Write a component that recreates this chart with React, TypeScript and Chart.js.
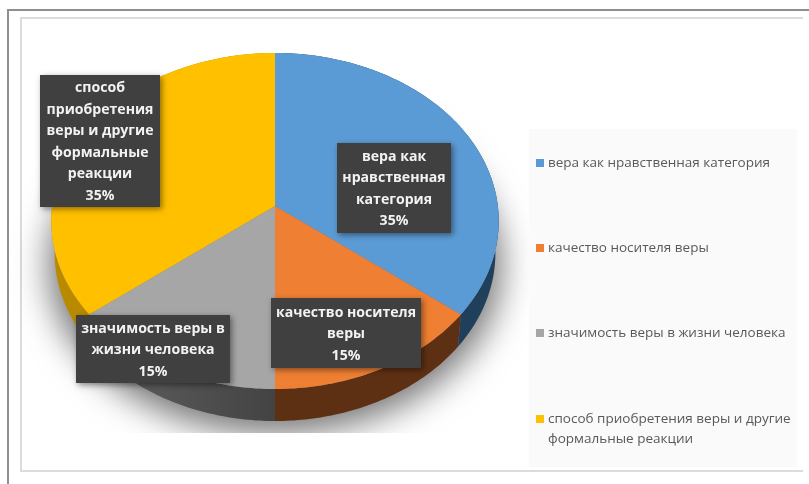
import React, { useEffect, useRef } from "react";
import { Chart, registerables } from "chart.js";

Chart.register(...registerables);

const categories = [
  "вера как нравственная категория",
  "качество носителя веры",
  "значимость веры в жизни человека",
  "способ приобретения веры и другие формальные реакции",
];
const shares = [35, 15, 15, 35];
const topColors = ["#5b9bd5", "#ef7f32", "#a6a6a6", "#ffc000"];
const sideColors = ["#203f5a", "#5e3013", "#434343", "#b98a00"];
const calloutLines = [
  ["вера как", "нравственная", "категория"],
  ["качество носителя", "веры"],
  ["значимость веры в", "жизни человека"],
  ["способ", "приобретения", "веры и другие", "формальные", "реакции"],
];
const legendLines = [
  ["вера как нравственная категория"],
  ["качество носителя веры"],
  ["значимость веры в жизни человека"],
  ["способ приобретения веры и другие", "формальные реакции"],
];

// Callout boxes: left, top, right, bottom, in canvas pixels.
const calloutBoxes = [
  [337, 143, 451, 233],
  [271, 298, 421, 368],
  [76, 315, 230, 383],
  [40, 75, 160, 207],
];
const legendRowY = [163, 248, 333, 419];

// Disc geometry: the slice apex sits above the centre of the rim to suggest perspective.
const APEX_X = 275;
const APEX_Y = 206;
const HALF_W = 223.5;
const PERSP = -0.0893;
const PERSP_Y = 148.3;
const RIM_CY = 221;
const RIM_RY = 168;
const DEPTH = 32;
const WALL_SCALE = 0.985;

function rimPoint(angle: number): [number, number] {
  const u = Math.cos(angle);
  const v = Math.sin(angle);
  const d = 1 + PERSP * v;
  const px = (HALF_W * u) / d;
  const py = (PERSP_Y * v + APEX_Y) / d;
  return [APEX_X + (px + HALF_W * u) / 2, (py + RIM_CY + RIM_RY * v) / 2];
}

function traceRim(
  ctx: CanvasRenderingContext2D,
  a0: number,
  a1: number,
  dy: number,
  scale = 1,
  reverse = false,
) {
  const n = Math.max(8, Math.ceil(Math.abs(a1 - a0) * 60));
  for (let i = 0; i <= n; i++) {
    const t = reverse ? 1 - i / n : i / n;
    const [x, y] = rimPoint(a0 + (a1 - a0) * t);
    ctx.lineTo(APEX_X + (x - APEX_X) * scale, y + dy);
  }
}

const tiltedPie = {
  id: "tiltedPie",
  beforeDatasetDraw(chart: any) {
    const ctx: CanvasRenderingContext2D = chart.ctx;
    const arcs = chart.getDatasetMeta(0).data;
    const angles = arcs.map((a: any) => a.getProps(["startAngle", "endAngle"], true));
    const first = angles[0].startAngle;
    const last = angles[angles.length - 1].endAngle;

    // Cast shadow only: the caster sits off-canvas, and the bottom is cut straight.
    const OFF = 3000;
    ctx.save();
    ctx.beginPath();
    ctx.rect(0, 0, 809, 433);
    ctx.clip();
    ctx.shadowColor = "rgba(0,0,0,0.55)";
    ctx.shadowBlur = 34;
    ctx.shadowOffsetX = OFF;
    ctx.fillStyle = "#000";
    ctx.beginPath();
    const shifted = DEPTH + 12;
    for (let i = 0; i <= 240; i++) {
      const [x, y] = rimPoint(first + ((last - first) * i) / 240);
      ctx.lineTo(APEX_X + (x - APEX_X) * 1.01 - OFF, y + shifted);
    }
    ctx.closePath();
    ctx.fill();
    ctx.restore();

    // Extruded side walls, then the top faces over them.
    angles.forEach((p: any, i: number) => {
      ctx.beginPath();
      traceRim(ctx, p.startAngle, p.endAngle, 0);
      traceRim(ctx, p.startAngle, p.endAngle, DEPTH, WALL_SCALE, true);
      ctx.closePath();
      if (i === 2) {
        const g = ctx.createLinearGradient(120, 0, 275, 0);
        g.addColorStop(0, "#5c5c5c");
        g.addColorStop(1, sideColors[i]);
        ctx.fillStyle = g;
      } else {
        ctx.fillStyle = sideColors[i];
      }
      ctx.fill();
    });
    angles.forEach((p: any, i: number) => {
      ctx.beginPath();
      ctx.moveTo(APEX_X, APEX_Y);
      traceRim(ctx, p.startAngle, p.endAngle, 0);
      ctx.closePath();
      ctx.fillStyle = topColors[i];
      ctx.fill();
    });
    return false;
  },
  afterDatasetsDraw(chart: any) {
    const ctx: CanvasRenderingContext2D = chart.ctx;
    const values: number[] = chart.data.datasets[0].data;

    // Dark value callouts
    ctx.textAlign = "center";
    ctx.textBaseline = "middle";
    calloutBoxes.forEach(([l, t, r, b], i) => {
      ctx.save();
      ctx.shadowColor = "rgba(0,0,0,0.45)";
      ctx.shadowBlur = 6;
      ctx.shadowOffsetX = 2;
      ctx.shadowOffsetY = 2;
      ctx.fillStyle = "#404040";
      ctx.fillRect(l, t, r - l, b - t);
      ctx.restore();
      const lines = [...calloutLines[i], `${values[i]}%`];
      const startY = (t + b) / 2 + 1 - ((lines.length - 1) * 21.5) / 2;
      ctx.font = 'bold 14.1px "Open Sans"';
      ctx.fillStyle = "#f2f2f2";
      lines.forEach((line, k) => ctx.fillText(line, (l + r) / 2, startY + k * 21.5));
    });

    // Legend panel with one swatch per category
    ctx.fillStyle = "#fafafa";
    ctx.fillRect(529, 129, 268, 338);
    ctx.textAlign = "left";
    ctx.font = '13.5px "Open Sans"';
    legendRowY.forEach((y, i) => {
      ctx.fillStyle = topColors[i];
      ctx.fillRect(536, y - 4, 8, 8);
      ctx.fillStyle = "#595959";
      legendLines[i].forEach((line, k) => ctx.fillText(line, 548, y + k * 20));
    });
  },
};

const framePlugin = {
  id: "frame",
  beforeDraw(chart: any) {
    const ctx: CanvasRenderingContext2D = chart.ctx;
    ctx.fillStyle = "#ffffff";
    ctx.fillRect(0, 0, 809, 484);
    ctx.fillStyle = "#8f8f8f";
    ctx.fillRect(8, 9, 801, 2);
    ctx.fillRect(7, 9, 2, 475);
    ctx.fillStyle = "#dcdcdc";
    ctx.fillRect(20, 17, 783, 2);
    ctx.fillRect(20, 17, 2, 455);
    ctx.fillRect(20, 470, 783, 2);
  },
};

export default function App() {
  const ref = useRef<HTMLCanvasElement>(null);
  useEffect(() => {
    const chart = new Chart(ref.current!, {
      type: "pie",
      data: {
        labels: categories,
        datasets: [{ data: shares, backgroundColor: topColors, borderWidth: 0 }],
      },
      options: {
        responsive: false,
        animation: false,
        plugins: { legend: { display: false }, tooltip: { enabled: false } },
      },
      plugins: [framePlugin, tiltedPie],
    } as any);
    return () => chart.destroy();
  }, []);
  return (
    <canvas
      ref={ref}
      width={809}
      height={484}
      style={{ position: "fixed", left: 0, top: 0, width: 809, height: 484, display: "block" }}
    />
  );
}
